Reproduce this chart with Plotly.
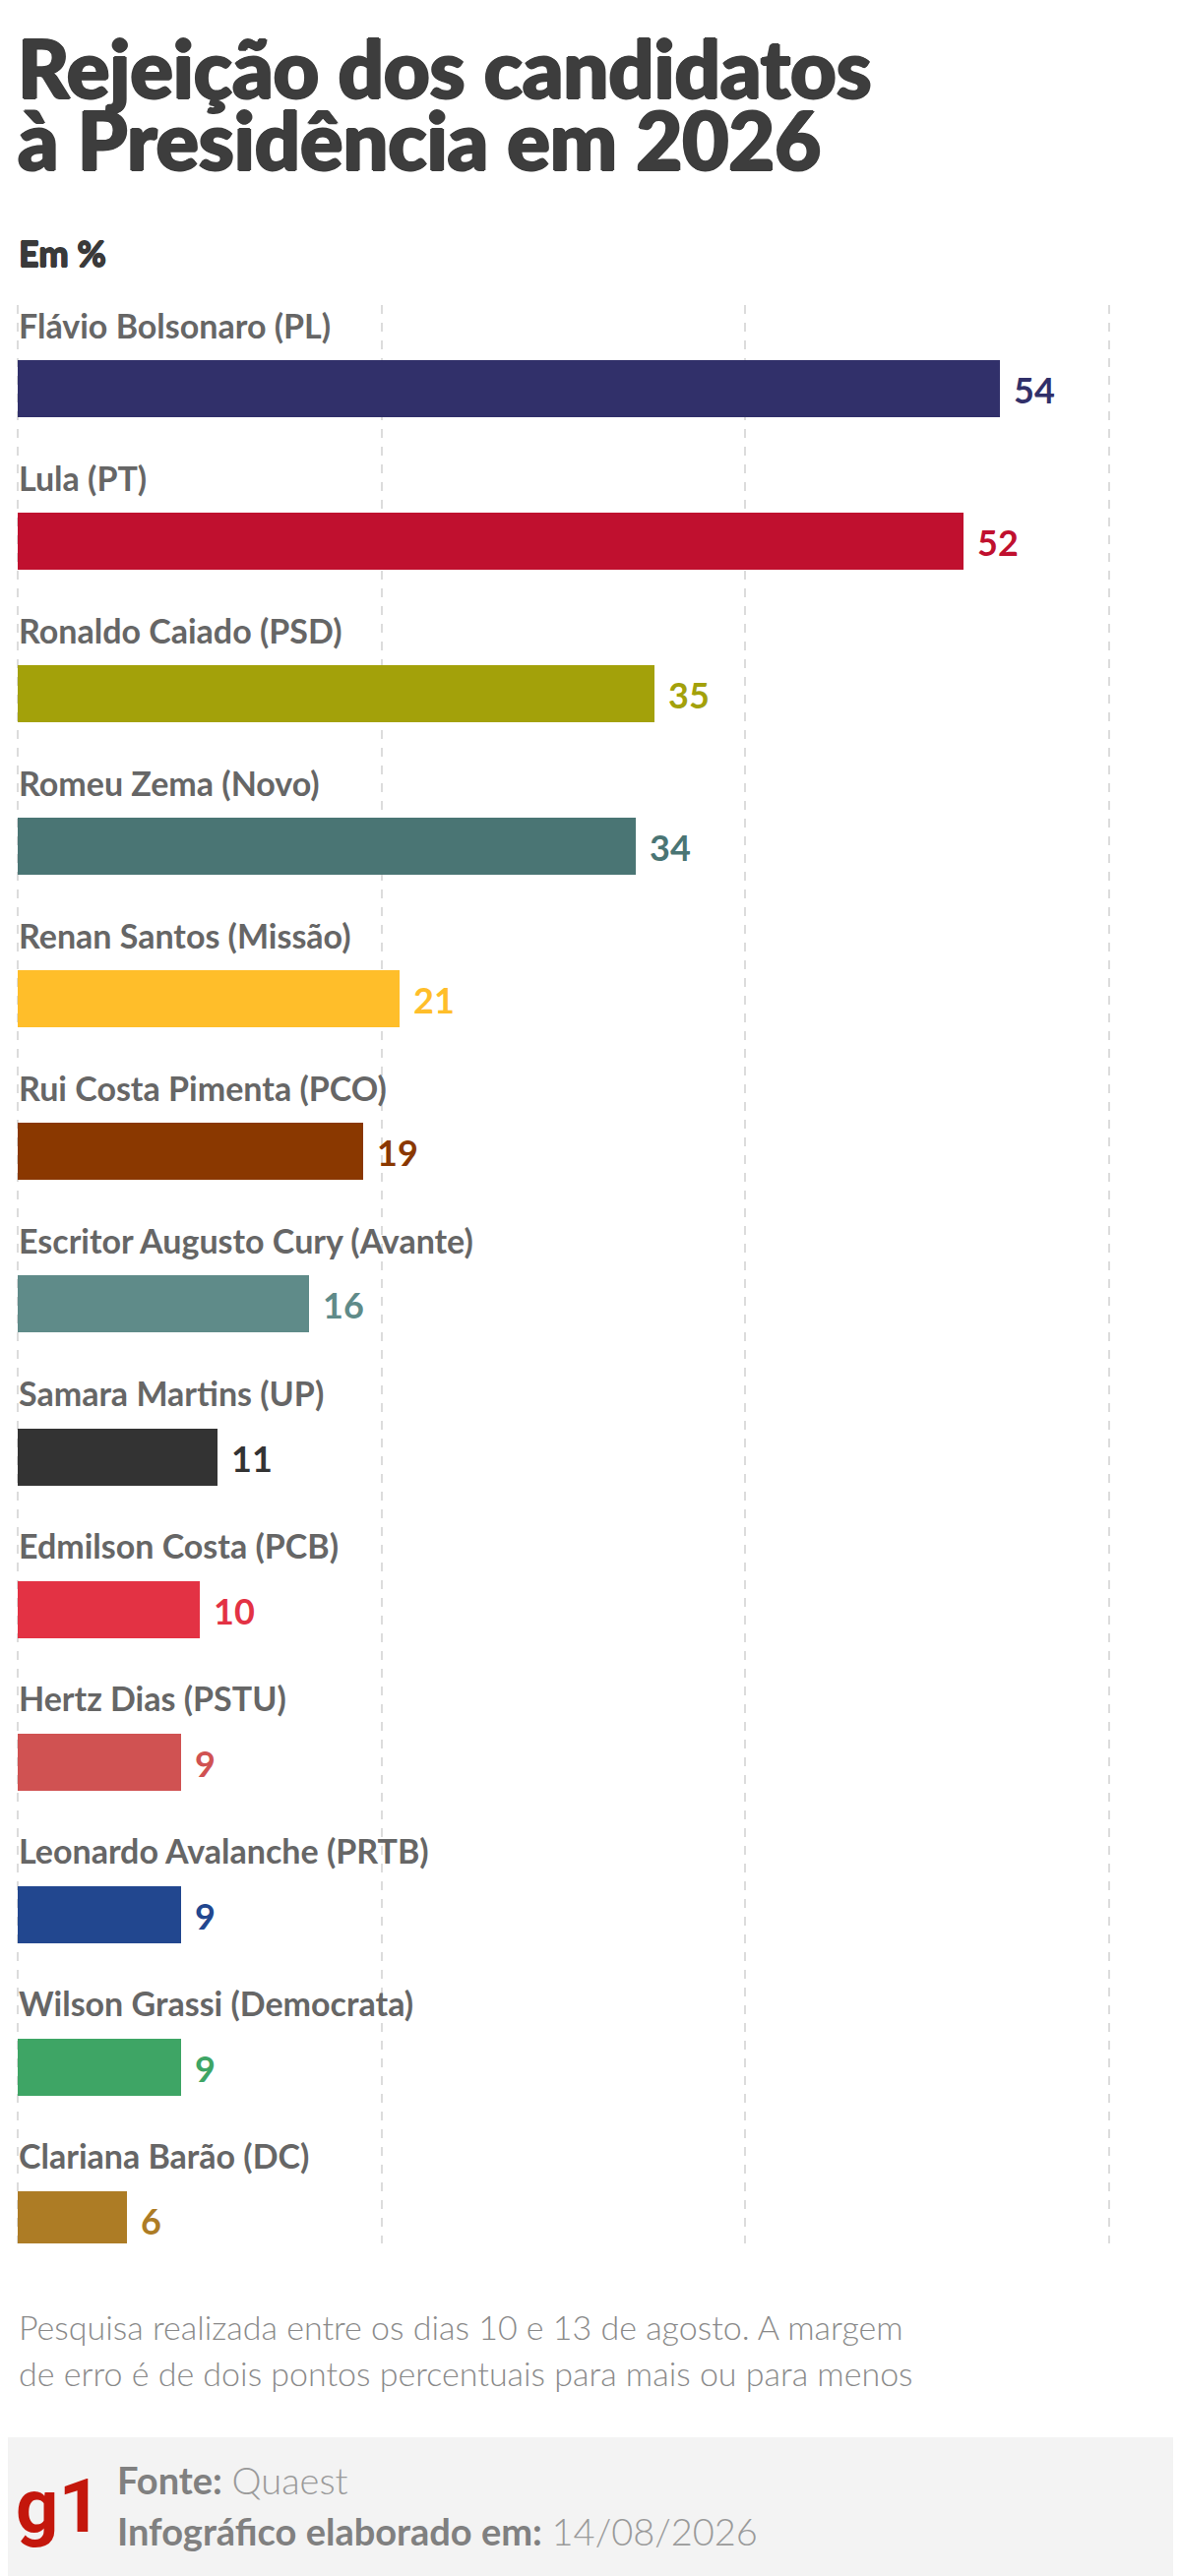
import plotly.graph_objects as go

# ---------------- data ----------------
candidates = [
    "Flávio Bolsonaro (PL)",
    "Lula (PT)",
    "Ronaldo Caiado (PSD)",
    "Romeu Zema (Novo)",
    "Renan Santos (Missão)",
    "Rui Costa Pimenta (PCO)",
    "Escritor Augusto Cury (Avante)",
    "Samara Martins (UP)",
    "Edmilson Costa (PCB)",
    "Hertz Dias (PSTU)",
    "Leonardo Avalanche (PRTB)",
    "Wilson Grassi (Democrata)",
    "Clariana Barão (DC)",
]
values = [54, 52, 35, 34, 21, 19, 16, 11, 10, 9, 9, 9, 6]
colors = [
    "#31306a", "#c0102f", "#a3a10a", "#4a7574", "#ffbe2a", "#8a3800",
    "#5f8b89", "#333333", "#e33244", "#d05252", "#22478f", "#3ea565",
    "#ad7c25",
]
grid_ticks = [0, 20, 40, 60]

title_lines = ["Rejeição dos candidatos", "à Presidência em 2026"]
unit_label = "Em %"
note_lines = [
    "Pesquisa realizada entre os dias 10 e 13 de agosto. A margem",
    "de erro é de dois pontos percentuais para mais ou para menos",
]
source_label = "Fonte:"
source_value = "Quaest"
date_label = "Infográfico elaborado em:"
date_value = "14/08/2026"
logo_text = "g1"

# ---------------- layout geometry ----------------
OFF = 8                      # default page body margin
W, H = 1200 - OFF, 2618 - OFF
FONT = "Lato"
scale = 18.48                # px per percentage point
L_M, R_M = 4, 36
T_PX, B_PX = 310 - OFF, 2280 - OFF   # plot area top / bottom (figure px)
PW = W - L_M - R_M
x0 = -(18 - OFF - L_M) / scale
x1 = x0 + PW / scale
row_px = 155.08
first_center = 395 - OFF
y_top = (T_PX - first_center) / row_px
y_bot = (B_PX - first_center) / row_px
bar_w = 58 / row_px


def px(x):
    """screen x -> paper x"""
    return (x - OFF - L_M) / PW


def py(y):
    """screen y -> paper y"""
    return (B_PX - (y - OFF)) / (B_PX - T_PX)


def heavy(color, d=1.2):
    return (f"{d}px 0px 0px {color}, -{d}px 0px 0px {color}, "
            f"0px {d}px 0px {color}, 0px -{d}px 0px {color}")


idx = list(range(len(candidates)))

fig = go.Figure()
fig.add_trace(go.Bar(
    x=values,
    y=idx,
    orientation="h",
    width=bar_w,
    marker=dict(color=colors, line=dict(width=0)),
    hoverinfo="skip",
    showlegend=False,
))

annotations = []
for i, (name, v, c) in enumerate(zip(candidates, values, colors)):
    annotations.append(dict(
        x=0, y=i, xref="x", yref="y", text=name, showarrow=False,
        xanchor="left", yanchor="middle", yshift=65, xshift=-1,
        font=dict(family=FONT, size=34, color="#666666", weight="bold"),
    ))
    annotations.append(dict(
        x=v, y=i, xref="x", yref="y", text=str(v), showarrow=False,
        xanchor="left", yanchor="middle", xshift=12, yshift=-1,
        font=dict(family=FONT, size=36, color=c, weight="bold"),
    ))

# title
for line, cy in zip(title_lines, [69, 142]):
    annotations.append(dict(
        x=px(16), y=py(cy), xref="paper", yref="paper", text=line,
        showarrow=False, xanchor="left", yanchor="middle",
        font=dict(family="Lato Black, Lato", size=81, color="#3d3d3d",
                  weight=900, shadow=heavy("#3d3d3d", 1.3)),
    ))

annotations.append(dict(
    x=px(17), y=py(257), xref="paper", yref="paper", text=unit_label,
    showarrow=False, xanchor="left", yanchor="middle",
    font=dict(family="Lato Black, Lato", size=36, color="#3a3a3a", weight=900,
              shadow=heavy("#3a3a3a", 0.6)),
))

for line, cy in zip(note_lines, [2364, 2411]):
    annotations.append(dict(
        x=px(17), y=py(cy), xref="paper", yref="paper", text=line,
        showarrow=False, xanchor="left", yanchor="middle",
        font=dict(family=FONT, size=34, color="#8a8a8a", weight=300),
    ))

# footer
annotations.append(dict(
    x=px(14), y=py(2547), xref="paper", yref="paper", text=logo_text,
    showarrow=False, xanchor="left", yanchor="middle",
    font=dict(family="Roboto", size=76, color="#c4170c", weight="bold"),
))
annotations.append(dict(
    x=px(117), y=py(2520), xref="paper", yref="paper",
    text=f"<b>{source_label}</b> <span style='color:#9a9a9a;font-weight:300'>{source_value}</span>",
    showarrow=False, xanchor="left", yanchor="middle",
    font=dict(family=FONT, size=38, color="#808080"),
))
annotations.append(dict(
    x=px(117), y=py(2572), xref="paper", yref="paper",
    text=f"<b>{date_label}</b> <span style='color:#9a9a9a;font-weight:300'>{date_value}</span>",
    showarrow=False, xanchor="left", yanchor="middle",
    font=dict(family=FONT, size=38, color="#808080"),
))

shapes = [dict(
    type="rect", xref="paper", yref="paper",
    x0=px(0), x1=px(1200), y0=py(2618), y1=py(2477),
    fillcolor="#f3f3f3", line=dict(width=0), layer="below",
)]

fig.update_layout(
    width=W, height=H,
    margin=dict(l=L_M, r=R_M, t=T_PX, b=H - B_PX, pad=0),
    paper_bgcolor="white", plot_bgcolor="white",
    xaxis=dict(
        range=[x0, x1], tickvals=grid_ticks, showticklabels=False,
        showgrid=True, gridcolor="#dcdcdc", gridwidth=1.5, griddash="dash",
        zeroline=False, showline=False, ticks="", fixedrange=True,
    ),
    yaxis=dict(
        range=[y_bot, y_top], showticklabels=False, showgrid=False,
        zeroline=False, showline=False, ticks="", fixedrange=True,
    ),
    annotations=annotations,
    shapes=shapes,
    bargap=0,
)

fig.write_html("out.html")
